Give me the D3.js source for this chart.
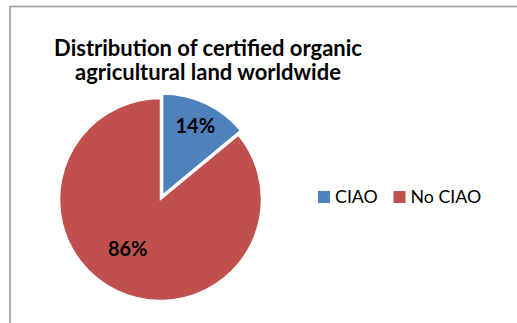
<!DOCTYPE html>
<html lang="en">
<head>
<meta charset="UTF-8">
<title>Distribution of certified organic agricultural land worldwide</title>
<script src="https://d3js.org/d3.v7.min.js"></script>
<style>
  body { margin: 0; background: #fff; }
  text { font-family: Lato, "Liberation Sans", sans-serif; }
</style>
</head>
<body>
<svg id="main" width="517" height="323"></svg>
<script>
// chart data
const categories = ['CIAO', 'No CIAO'];
const shares = [14, 86];
const colors = ['#4F81BD', '#C0504D'];
const titleLines = ['Distribution of certified organic', 'agricultural land worldwide'];

const svg = d3.select('#main');

// outer chart border (only left + top visible in the crop)
svg.append('rect')
    .attr('x', 10).attr('y', 6.5)
    .attr('width', 600).attr('height', 400)
    .attr('fill', 'none')
    .attr('stroke', '#9a9a9a')
    .attr('stroke-width', 1.6);

// title
svg.append('g').selectAll('text')
    .data(titleLines)
    .join('text')
    .attr('x', 208)
    .attr('y', (d, i) => 55.5 + i * 24.5)
    .attr('text-anchor', 'middle')
    .style('font-size', '22px')
    .style('font-weight', 'bold')
    .attr('fill', '#000')
    .text(d => d);

// pie
const cx = 160.5, cy = 199.5, r = 101;
const explode = 5;
const pie = d3.pie().sort(null).value(d => d.v);
const arcs = pie(categories.map((c, i) => ({c: c, v: shares[i], i: i})));
const arc = d3.arc().innerRadius(0).outerRadius(r);
const labelR = [0.76 * r, 0.6 * r];
const labelNudge = [[0, 0], [-7, -6]];

const g = svg.append('g').attr('transform', `translate(${cx},${cy})`);

function offset(d, dist) {
    const a = (d.startAngle + d.endAngle) / 2;
    return [Math.sin(a) * dist, -Math.cos(a) * dist];
}

const slices = g.selectAll('g.slice')
    .data(arcs)
    .join('g')
    .attr('class', 'slice')
    .attr('transform', d => {
        const o = offset(d, d.data.i === 0 ? explode : 0);
        return `translate(${o[0]},${o[1]})`;
    });

slices.append('path')
    .attr('d', arc)
    .attr('fill', d => colors[d.data.i])
    .attr('stroke', '#fff')
    .attr('stroke-width', 1.5);

slices.append('text')
    .attr('transform', d => {
        const i = d.data.i;
        const p = d3.arc().innerRadius(labelR[i]).outerRadius(labelR[i]).centroid(d);
        return `translate(${p[0] + labelNudge[i][0]},${p[1] + labelNudge[i][1]})`;
    })
    .attr('text-anchor', 'middle')
    .attr('dy', '0.36em')
    .style('font-size', '20px')
    .style('font-weight', 'bold')
    .attr('fill', '#000')
    .text(d => d.data.v + '%');

// legend
const legend = svg.append('g').attr('transform', 'translate(318,191)');
const legendX = [0, 75.5];
const items = legend.selectAll('g')
    .data(categories)
    .join('g')
    .attr('transform', (d, i) => `translate(${legendX[i]},0)`);
items.append('rect')
    .attr('width', 12).attr('height', 12)
    .attr('fill', (d, i) => colors[i]);
items.append('text')
    .attr('x', 17)
    .attr('y', 12)
    .style('font-size', '17.8px')
    .attr('fill', '#000')
    .text(d => d);
</script>
</body>
</html>
